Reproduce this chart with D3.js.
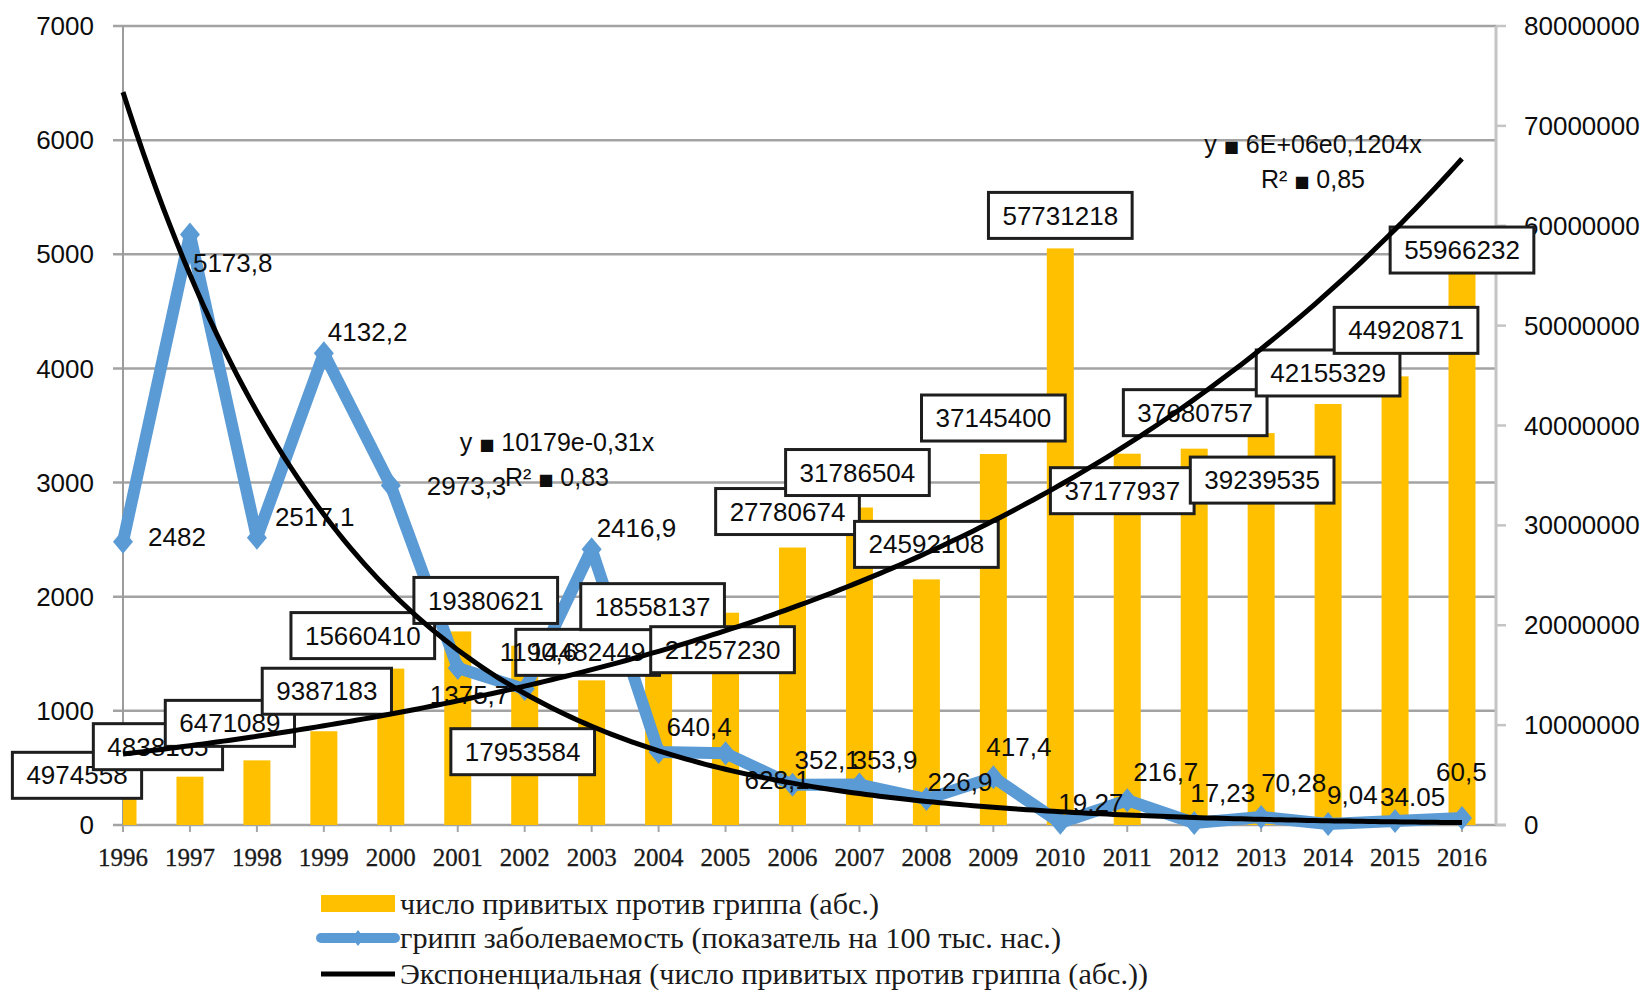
<!DOCTYPE html>
<html><head><meta charset="utf-8">
<script src="https://cdn.jsdelivr.net/npm/d3@7"></script>
<style>body{margin:0;background:#fff}svg{display:block}</style>
</head><body>
<svg id="c" width="1650" height="991"></svg>
<script>
// ---------- DATA ----------
const years = ["1996","1997","1998","1999","2000","2001","2002","2003","2004","2005","2006","2007","2008","2009","2010","2011","2012","2013","2014","2015","2016"];
const vaccinated = [4974558, 4838165, 6471089, 9387183, 15660410, 19380621, 17953584, 14482449, 18558137, 21257230, 27780674, 31786504, 24592108, 37145400, 57731218, 37177937, 37680757, 39239535, 42155329, 44920871, 55966232];
const incidence = [2482, 5173.8, 2517.1, 4132.2, 2973.3, 1375.7, 1190.6, 2416.9, 640.4, 628.1, 352.1, 353.9, 226.9, 417.4, 19.27, 216.7, 17.23, 70.28, 9.04, 34.05, 60.5];
const incidenceLabels = ["2482","5173,8","2517,1","4132,2","2973,3","1375,7","1190,6","2416,9","640,4","628,1","352,1","353,9","226,9","417,4","19,27","216,7","17,23","70,28","9,04","34.05","60,5"];
const leftTicks = [0,1000,2000,3000,4000,5000,6000,7000];
const rightTicks = [0,10000000,20000000,30000000,40000000,50000000,60000000,70000000,80000000];
const legendLabels = ["число привитых против гриппа (абс.)","грипп заболеваемость (показатель на 100 тыс. нас.)","Экспоненциальная (число привитых против гриппа (абс.))"];
const eqIncidence = [["y", "10179e-0,31x"], ["R\u00B2", "0,83"]];
const eqVaccinated = [["y", "6E+06e0,1204x"], ["R\u00B2", "0,85"]];

// ---------- LAYOUT (label offsets relative to their data point, px) ----------
const barLabelOffset = [[-46,0],[-32,-30],[-27,-37],[3,-40],[-28,-33],[28,-31],[-2,106],[-4,-28],[-6,-33],[-3,37],[-5,-36],[-2,-35],[0,-35],[0,-36],[0,-33],[-5,37],[1,-36],[1,47],[0,-31],[11,-46],[0,-16]];
const incLabelOffset = [[25,-5],[3,28],[18,-21],[4,-21],[36,0],[-28,27],[-25,-37],[5,-21],[8,-25],[19,27],[2,-25],[-7,-25],[1,-17],[-7,-30],[-2,-20],[6,-28],[-4,-30],[0,-34],[-1,-29],[-15,-24],[-26,-46]];

const L = 123, R = 1496, T = 26, B = 825;
const svg = d3.select("#c");
const SANS = "'Liberation Sans', Arial, sans-serif";
const SERIF = "'Liberation Serif', 'Times New Roman', serif";
const INK = "#0d0d0d";

const x = d3.scalePoint().domain(years).range([123, 1462]).padding(0);
const yL = d3.scaleLinear().domain([0, 7000]).range([B, T]);
const yR = d3.scaleLinear().domain([0, 80000000]).range([B, T]);

// gridlines
svg.append("g").selectAll("line").data(leftTicks).join("line")
  .attr("x1", L - 10).attr("x2", d => d === 0 ? R + 10 : R)
  .attr("y1", d => yL(d)).attr("y2", d => yL(d))
  .attr("stroke", "#a3a3a3").attr("stroke-width", 2.5);

// axes
svg.append("line").attr("x1", L).attr("x2", L).attr("y1", T).attr("y2", B)
  .attr("stroke", "#9c9c9c").attr("stroke-width", 2);
svg.append("line").attr("x1", R).attr("x2", R).attr("y1", T).attr("y2", B)
  .attr("stroke", "#c4c4c4").attr("stroke-width", 3);
svg.append("g").selectAll("line").data(rightTicks).join("line")
  .attr("x1", R).attr("x2", R + 10).attr("y1", d => yR(d)).attr("y2", d => yR(d))
  .attr("stroke", "#c4c4c4").attr("stroke-width", 2.5);
svg.append("g").selectAll("line").data(years).join("line")
  .attr("x1", d => x(d)).attr("x2", d => x(d)).attr("y1", B).attr("y2", B + 7)
  .attr("stroke", "#a6a6a6").attr("stroke-width", 2);

// axis labels
svg.append("g").selectAll("text").data(leftTicks).join("text")
  .attr("x", 94).attr("y", d => yL(d)).attr("dy", "0.35em")
  .attr("text-anchor", "end").attr("font-family", SANS).attr("font-size", 26)
  .attr("fill", INK).text(d => d);
svg.append("g").selectAll("text").data(rightTicks).join("text")
  .attr("x", 1524).attr("y", d => yR(d)).attr("dy", "0.35em")
  .attr("font-family", SANS).attr("font-size", 26)
  .attr("fill", INK).text(d => d);
svg.append("g").selectAll("text").data(years).join("text")
  .attr("x", d => x(d)).attr("y", 857).attr("dy", "0.35em")
  .attr("text-anchor", "middle").attr("font-family", SERIF).attr("font-size", 25)
  .attr("fill", "#1a1a1a").attr("stroke", "#1a1a1a").attr("stroke-width", 0.3).text(d => d);

// bars
svg.append("clipPath").attr("id", "plot").append("rect")
  .attr("x", L).attr("y", T).attr("width", R - L).attr("height", B - T);
const bw = 27;
svg.append("g").attr("clip-path", "url(#plot)").selectAll("rect").data(vaccinated).join("rect")
  .attr("x", (d, i) => x(years[i]) - bw / 2).attr("width", bw)
  .attr("y", d => yR(d)).attr("height", d => B - yR(d))
  .attr("fill", "#ffc000");

// incidence line
const blue = "#5b9bd5";
svg.append("path").datum(incidence)
  .attr("d", d3.line().x((d, i) => x(years[i])).y(d => yL(d)))
  .attr("fill", "none").attr("stroke", blue).attr("stroke-width", 12)
  .attr("stroke-linejoin", "round");
const diamond = "M0,-12L10,0L0,12L-10,0Z";
svg.append("g").selectAll("path").data(incidence).join("path")
  .attr("transform", (d, i) => `translate(${x(years[i])},${yL(d)})`)
  .attr("d", diamond).attr("fill", blue);

// bar value labels (boxed)
const gb = svg.append("g");
vaccinated.forEach((v, i) => {
  const cx = x(years[i]) + barLabelOffset[i][0];
  const cy = yR(v) + barLabelOffset[i][1];
  const g = gb.append("g");
  const rect = g.append("rect");
  const t = g.append("text").attr("x", cx).attr("y", cy).attr("dy", "0.35em")
    .attr("text-anchor", "middle").attr("font-family", SANS).attr("font-size", 26)
    .attr("fill", INK).text(String(v));
  const w = t.node().getComputedTextLength() + 28, h = 46;
  rect.attr("x", cx - w / 2).attr("y", cy - h / 2).attr("width", w).attr("height", h)
    .attr("fill", "#fff").attr("stroke", "#1e1e1e").attr("stroke-width", 3);
});

// incidence labels
svg.append("g").selectAll("text").data(incidence).join("text")
  .attr("x", (d, i) => x(years[i]) + incLabelOffset[i][0])
  .attr("y", (d, i) => yL(d) + incLabelOffset[i][1]).attr("dy", "0.35em")
  .attr("font-family", SANS).attr("font-size", 26).attr("fill", INK)
  .text((d, i) => incidenceLabels[i]);

// trend equations (the "=" renders as a small filled square in the source)
function eq(lines, cx, y0) {
  lines.forEach((parts, k) => {
    const t = svg.append("text").attr("x", cx).attr("y", y0 + k * 35).attr("dy", "0.35em")
      .attr("text-anchor", "middle").attr("font-family", SANS).attr("font-size", 25)
      .attr("fill", INK);
    t.append("tspan").text(parts[0] + " ");
    t.append("tspan").attr("font-size", 16).attr("font-family", "'DejaVu Sans', sans-serif")
      .attr("dy", "-0.05em").text("\u25A0");
    t.append("tspan").attr("dy", "0.05em").text(" " + parts[1]);
  });
}
eq(eqIncidence, 557, 442);
eq(eqVaccinated, 1313, 144);

// exponential trendlines fitted to the data (least squares on ln y)
function expFit(vals) {
  const xs = vals.map((d, i) => i + 1), ls = vals.map(Math.log);
  const mx = d3.mean(xs), ml = d3.mean(ls);
  const b = d3.sum(xs, (xv, i) => (xv - mx) * (ls[i] - ml)) / d3.sum(xs, xv => (xv - mx) ** 2);
  const a = Math.exp(ml - b * mx);
  return t => a * Math.exp(b * t);
}
const step = x.step();
const ts = d3.range(1, years.length + 0.0001, 0.1);
function trend(vals, yScale) {
  const f = expFit(vals);
  svg.append("path").datum(ts)
    .attr("d", d3.line().x(t => x(years[0]) + (t - 1) * step).y(t => yScale(f(t))))
    .attr("fill", "none").attr("stroke", "#000").attr("stroke-width", 5);
}
trend(incidence, yL);
trend(vaccinated, yR);

// legend
const lg = svg.append("g");
lg.append("rect").attr("x", 321).attr("y", 895).attr("width", 74).attr("height", 17).attr("fill", "#ffc000");
lg.append("line").attr("x1", 321).attr("x2", 395).attr("y1", 938).attr("y2", 938)
  .attr("stroke", blue).attr("stroke-width", 10).attr("stroke-linecap", "round");
lg.append("path").attr("transform", "translate(358,938)").attr("d", "M0,-8L6,0L0,8L-6,0Z").attr("fill", blue);
lg.append("line").attr("x1", 321).attr("x2", 395).attr("y1", 974).attr("y2", 974)
  .attr("stroke", "#000").attr("stroke-width", 5);
const legendWidths = [479, 661, 748];
const legendY = [904, 938, 974];
lg.selectAll("text").data(legendLabels).join("text")
  .attr("x", 400).attr("y", (d, i) => legendY[i]).attr("dy", "0.35em")
  .attr("font-family", SERIF).attr("font-size", 29).attr("fill", "#1a1a1a")
  .attr("textLength", (d, i) => legendWidths[i]).attr("lengthAdjust", "spacingAndGlyphs")
  .text(d => d);
</script>
</body></html>
